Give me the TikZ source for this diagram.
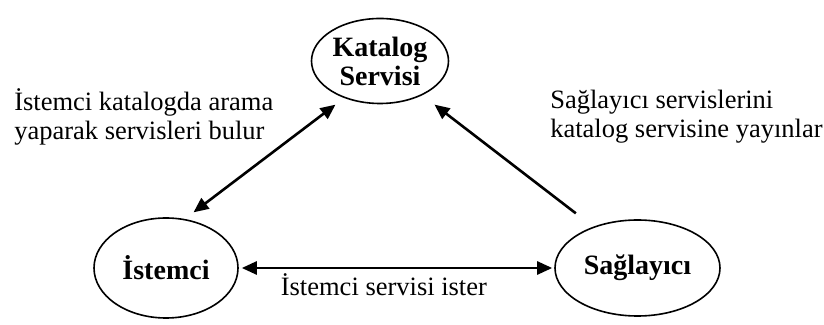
\documentclass[tikz,border=0pt]{standalone}
\usepackage{fontspec}
\setmainfont{Liberation Serif}
\usetikzlibrary{arrows.meta,shapes.geometric}

\begin{document}
\begin{tikzpicture}[x=0.5pt, y=-0.5pt, line width=1.3pt,
  font=\fontsize{13.25}{14.5}\selectfont,
  >={Triangle[length=7.5pt,width=6.5pt]},
  actor/.style={ellipse, draw, line width=0.8pt, inner sep=0pt, align=center,
                font=\fontsize{14}{14.5}\selectfont\bfseries},
  lbl/.style={inner sep=0pt, align=left}]

\useasboundingbox (0,0) rectangle (824,325);

\node[actor, minimum width=68.5pt, minimum height=42.5pt] (katalog)   at (380,61)    {Katalog\\Servisi};
\node[actor, minimum width=72pt,   minimum height=50pt]   (istemci)   at (166,268)   {İstemci};
\node[actor, minimum width=82.5pt, minimum height=48pt]   (saglayici) at (637.5,268) {Sağlayıcı};

% The client looks the service up in the catalogue, and the catalogue answers.
\draw[<->, shorten <=5.45pt, shorten >=5.45pt] (istemci.69) -- (katalog.226);
\node[lbl, anchor=north west] (bulur) at (13,87) {İstemci katalogda arama\\yaparak servisleri bulur};

% The provider only publishes; nothing comes back to it from the catalogue.
\draw[->, shorten <=10.95pt, shorten >=7.65pt] (saglayici.137) -- (katalog.321);
\node[lbl, anchor=north west] (yayinlar) at (549,89) {Sağlayıcı servislerini\\katalog servisine yayınlar};

\draw[<->, shorten <=1.5pt, shorten >=1pt] (istemci.east) --
      node[lbl, below=2pt, pos=0.46] (ister) {İstemci servisi ister} (saglayici.west);
\end{tikzpicture}
\end{document}
